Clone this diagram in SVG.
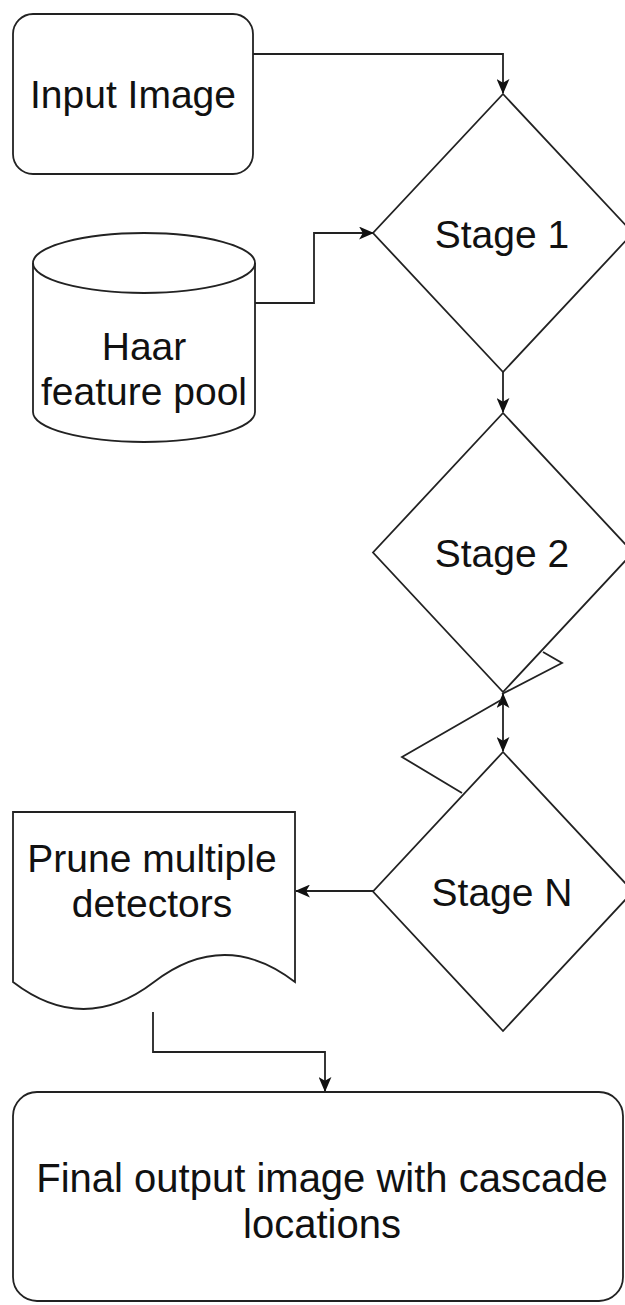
<svg xmlns="http://www.w3.org/2000/svg" width="625" height="1305" viewBox="0 0 625 1305">
  <style>
    .shape { fill: #ffffff; stroke: #222222; stroke-width: 1.8; }
    .edge { fill: none; stroke: #222222; stroke-width: 1.8; }
    .lbl { font-family: "Liberation Sans", Arial, sans-serif; font-size: 39px; fill: #111111; text-anchor: middle; }
    .big { font-size: 40px; }
  </style>
  <defs>
    <marker id="arrow" viewBox="0 0 14 12" refX="13" refY="6" markerWidth="15" markerHeight="13" markerUnits="userSpaceOnUse" orient="auto-start-reverse">
      <path d="M0,0 L14,6 L0,12 L3.5,6 Z" fill="#111111"/>
    </marker>
  </defs>
  <rect width="625" height="1305" fill="#ffffff"/>

  <g id="connectors">
    <path class="edge" d="M253,54 L503,54 L503,93" marker-end="url(#arrow)"/>
    <path class="edge" d="M255,303 L314,303 L314,233 L373,233" marker-end="url(#arrow)"/>
    <path class="edge" d="M503,372 L503,412" marker-end="url(#arrow)"/>
    <path class="edge" d="M503,694 L503,751" marker-start="url(#arrow)" marker-end="url(#arrow)"/>
    <path class="edge" d="M543,652 L562,663 L502,694"/>
    <path class="edge" d="M501,700 L402,757 L462,793"/>
    <path class="edge" d="M374,891 L296,891" marker-end="url(#arrow)"/>
    <path class="edge" d="M153,1012 L153,1052 L325,1052 L325,1091" marker-end="url(#arrow)"/>
  </g>

  <g id="input-image">
    <rect class="shape" x="13" y="14" width="240" height="160" rx="20" ry="20"/>
    <text class="lbl" x="133" y="108">Input Image</text>
  </g>

  <g id="haar-pool">
    <path class="shape" d="M33,263 A111,30 0 0 1 255,263 L255,412 A111,30 0 0 1 33,412 Z"/>
    <path class="edge" d="M33,263 A111,30 0 0 0 255,263"/>
    <text class="lbl" x="144" y="360">Haar</text>
    <text class="lbl" x="144" y="405">feature pool</text>
  </g>

  <g id="stage-1">
    <path class="shape" d="M503,94 L633,233 L503,372 L373,233 Z"/>
    <text class="lbl" x="502" y="248">Stage 1</text>
  </g>

  <g id="stage-2">
    <path class="shape" d="M503,413 L633,552.5 L503,692 L373,552.5 Z"/>
    <text class="lbl" x="502" y="567">Stage 2</text>
  </g>

  <g id="stage-n">
    <path class="shape" d="M503,752 L633,891.5 L503,1031 L373,891.5 Z"/>
    <text class="lbl" x="502" y="906">Stage N</text>
  </g>

  <g id="prune">
    <path class="shape" d="M13,812 L295,812 L295,982 Q224.5,928 154,982 Q83.5,1036 13,982 Z"/>
    <text class="lbl" x="152" y="872">Prune multiple</text>
    <text class="lbl" x="152" y="917">detectors</text>
  </g>

  <g id="final-output">
    <rect class="shape" x="13" y="1092" width="610" height="209" rx="24" ry="24"/>
    <text class="lbl big" x="322" y="1192">Final output image with cascade</text>
    <text class="lbl big" x="322" y="1238">locations</text>
  </g>
</svg>
